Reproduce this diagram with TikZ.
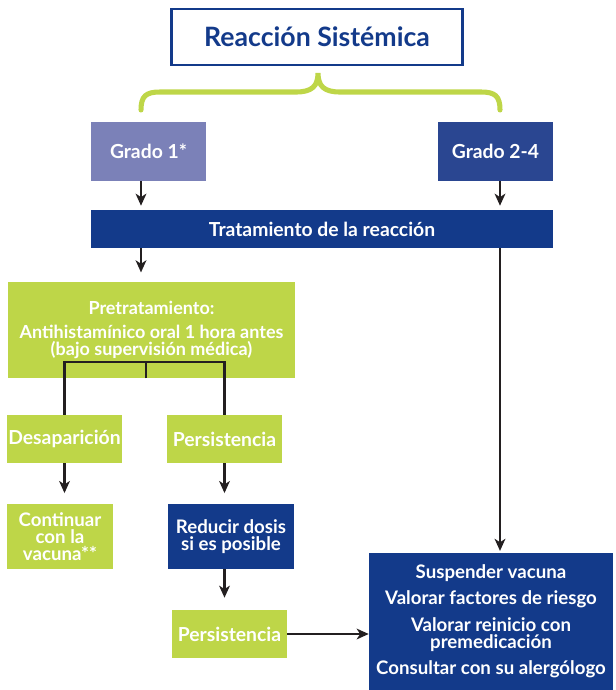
\documentclass[tikz,border=0pt]{standalone}
\usepackage{fontspec}
\setmainfont{Lato}
\usepackage{tikz}
\usetikzlibrary{arrows.meta}
\definecolor{verde}{RGB}{190,214,72}
\definecolor{azul}{RGB}{19,58,138}
\definecolor{azulg}{RGB}{42,70,145}
\definecolor{lila}{RGB}{123,129,184}
\definecolor{linea}{RGB}{35,31,32}
\begin{document}
\begin{tikzpicture}[x=0.75pt,y=-0.75pt,
  caja/.style={inner sep=0pt,align=center,text=white,font=\bfseries\fontsize{14.5}{13}\selectfont},
  cverde/.style={caja,fill=verde},
  cazul/.style={caja,fill=azul},
  flecha/.style={draw=linea,line width=1.8pt,-{Stealth[length=9pt,width=8pt,inset=2.5pt]}},
  linea/.style={draw=linea,line width=1.8pt}]
  \useasboundingbox (0,0) rectangle (616,690);
  \coordinate (xl) at (141,0);
  \coordinate (xr) at (500,0);
  \node[caja,draw=azul,line width=1.6pt,text=azul,minimum width=291pt*0.75,minimum height=56pt*0.75,
        font=\bfseries\fontsize{20}{22}\selectfont] (titulo) at (317,37) {Reacción Sistémica};
  \draw[verde,line width=3.8pt,line cap=round]
    (141,110) .. controls (141,96) and (146,92) .. (160,92) -- (296,92)
    .. controls (312,92) and (318,86) .. (318,73)
    .. controls (318,86) and (324,92) .. (340,92) -- (481,92)
    .. controls (495,92) and (500,96) .. (500,110);
  \node[caja,fill=lila,minimum width=115pt*0.75,minimum height=59pt*0.75] (g1) at (148.5,151.5) {Grado 1*};
  \node[caja,fill=azulg,minimum width=115pt*0.75,minimum height=59pt*0.75] (g24) at (495.5,151.5) {Grado 2-4};
  \node[cazul,minimum width=462pt*0.75,minimum height=38pt*0.75] (trat) at (322,229) {Tratamiento de la reacción};
  \node[cverde,minimum width=287pt*0.75,minimum height=96pt*0.75,font=\bfseries\fontsize{13.5}{13}\selectfont] (pre) at (151.5,330)
    {Pretratamiento:\\[4.5pt]Antihistamínico oral 1 hora antes\\(bajo supervisión médica)};
  \node[cverde,minimum width=115pt*0.75,minimum height=48pt*0.75] (desap) at (64.5,439) {Desaparición};
  \node[cverde,minimum width=115pt*0.75,minimum height=48pt*0.75] (pers1) at (224.5,439) {Persistencia};
  \node[cverde,minimum width=106pt*0.75,minimum height=65pt*0.75,font=\bfseries\fontsize{14}{12.6}\selectfont] (cont) at (60,536.5) {Continuar\\con la\\vacuna**};
  \node[cazul,minimum width=126pt*0.75,minimum height=65pt*0.75,font=\bfseries\fontsize{14}{12.6}\selectfont] (red) at (231,536.5) {Reducir dosis\\si es posible};
  \node[cverde,minimum width=115pt*0.75,minimum height=48pt*0.75] (pers2) at (229.5,634) {Persistencia};
  \node[cazul,minimum width=244pt*0.75,minimum height=137pt*0.75,font=\bfseries\fontsize{14}{12.8}\selectfont] (susp) at (491,621)
    {Suspender vacuna\\[6.5pt]Valorar factores de riesgo\\[6.5pt]Valorar reinicio con\\premedicación\\[6.5pt]Consultar con su alergólogo};
  \draw[flecha,shorten >=3pt] (g1.south -| xl) -- (trat.north -| xl);
  \draw[flecha,shorten >=3pt] (g24.south -| xr) -- (trat.north -| xr);
  \draw[flecha,shorten >=7pt] (trat.south -| xl) -- (pre.north -| xl);
  \draw[flecha,shorten >=1pt] (trat.south -| xr) -- (susp.north -| xr);
  \draw[linea] ([xshift=-4pt]pre.south) -- ++(0,-16) coordinate (nudo);
  \draw[linea] (desap.north) |- (nudo) -| (pers1.north);
  \draw[flecha,shorten >=8pt] (desap.south) -- (cont.north -| desap.south);
  \draw[flecha,shorten >=8pt] (pers1.south) -- (red.north -| pers1.south);
  \draw[flecha,shorten >=9pt] (red.south -| pers1.south) -- (pers2.north -| pers1.south);
  \draw[flecha] (pers2.east) -- (susp.west |- pers2.east);
\end{tikzpicture}
\end{document}
